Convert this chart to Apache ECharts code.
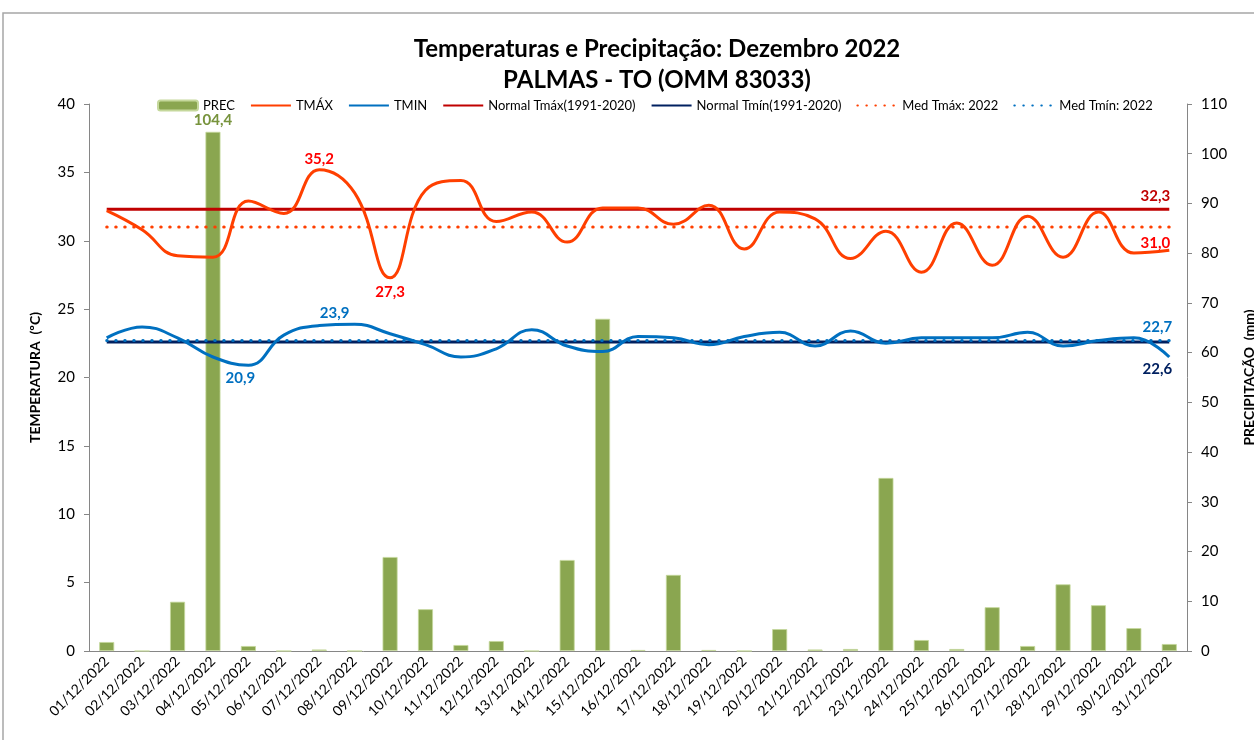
<!DOCTYPE html>
<html>
<head>
    <meta charset="utf-8">
    <title>Temperaturas e Precipitação: Dezembro 2022</title>
    <script src="https://cdn.jsdelivr.net/npm/echarts@6/dist/echarts.min.js"></script>
</head>
<body style="margin:0;background:#fff;">
    <div id="main" style="width: 1254px;height:740px;"></div>
    <script type="text/javascript">
        // dias do mês
        var days = ['01/12/2022','02/12/2022','03/12/2022','04/12/2022','05/12/2022','06/12/2022','07/12/2022','08/12/2022',
            '09/12/2022','10/12/2022','11/12/2022','12/12/2022','13/12/2022','14/12/2022','15/12/2022','16/12/2022',
            '17/12/2022','18/12/2022','19/12/2022','20/12/2022','21/12/2022','22/12/2022','23/12/2022','24/12/2022',
            '25/12/2022','26/12/2022','27/12/2022','28/12/2022','29/12/2022','30/12/2022','31/12/2022'];

        var prec = [1.8, 0, 9.9, 104.4, 1.0, 0, 0.3, 0, 18.9, 8.4, 1.2, 2.0, 0, 18.3, 66.8, 0.2,
            15.3, 0.2, 0, 4.4, 0.3, 0.4, 34.8, 2.2, 0.4, 8.8, 1.0, 13.4, 9.2, 4.6, 1.4];
        var tmax = [32.2, 30.8, 28.9, 28.8, 32.9, 32.0, 35.2, 33.5, 27.3, 33.7, 34.4, 31.4, 32.1, 29.9, 32.4, 32.4,
            31.2, 32.6, 29.4, 32.1, 31.6, 28.7, 30.7, 27.7, 31.3, 28.2, 31.8, 28.8, 32.1, 29.1, 29.3];
        var tmin = [22.9, 23.7, 22.9, 21.5, 20.9, 23.1, 23.8, 23.9, 23.2, 22.4, 21.5, 22.1, 23.5, 22.3, 21.9, 23.0,
            22.9, 22.4, 23.0, 23.3, 22.3, 23.4, 22.5, 22.9, 22.9, 22.9, 23.3, 22.3, 22.7, 22.9, 21.5];
        var normalTmax = 32.3;
        var normalTmin = 22.6;
        var medTmax = 31.0;
        var medTmin = 22.7;

        var fonte = 'Lato';

        function virgula(v) {
            return v.toFixed(1).replace('.', ',');
        }

        function constante(v) {
            return days.map(function () { return v; });
        }

        // rótulos de valores (série, índice, posição, distância, deslocamento x, cor)
        var rotulos = [
            [tmax, 6, 'top', 2, 0, '#FF0000'],
            [tmax, 8, 'bottom', 6, 0, '#FF0000'],
            [tmin, 7, 'top', 3, -20, '#0070C0'],
            [tmin, 4, 'bottom', 5, -8, '#0070C0'],
            [constante(normalTmax), 30, 'top', 5, -14, '#C00000'],
            [constante(medTmax), 30, 'bottom', 8, -14, '#FF0000'],
            [constante(medTmin), 30, 'top', 5, -12, '#0070C0'],
            [constante(normalTmin), 30, 'bottom', 19, -12, '#002060']
        ];

        var pontosRotulo = rotulos.map(function (r) {
            return {
                value: [r[1], r[0][r[1]]],
                label: {
                    show: true, position: r[2], distance: r[3], offset: [r[4], 0], color: r[5], opacity: 1,
                    fontFamily: fonte, fontWeight: 'bold', fontSize: 15,
                    formatter: function (p) { return virgula(p.value[1]); }
                }
            };
        });

        var semSimbolo = { itemStyle: { opacity: 0 } };

        var myChart = echarts.init(document.getElementById('main'));

        var option = {
            animation: false,
            textStyle: { fontFamily: fonte },
            graphic: [{
                type: 'rect',
                shape: { x: 3, y: 13, width: 1300, height: 760 },
                style: { fill: 'none', stroke: '#a6a6a6', lineWidth: 1.5 },
                silent: true
            }],
            title: {
                text: 'Temperaturas e Precipitação: Dezembro 2022\nPALMAS - TO (OMM 83033)',
                left: 652,
                textAlign: 'center',
                top: 29,
                textStyle: { fontFamily: fonte, fontSize: 24, fontWeight: 'bold', color: '#000', lineHeight: 31 }
            },
            legend: {
                left: 152,
                top: 94,
                itemWidth: 40,
                itemHeight: 10,
                itemGap: 15,
                textStyle: { fontFamily: fonte, fontSize: 13, color: '#000' },
                data: [
                    { name: 'PREC' },
                    Object.assign({ name: 'TMÁX' }, semSimbolo),
                    Object.assign({ name: 'TMIN' }, semSimbolo),
                    Object.assign({ name: 'Normal Tmáx(1991-2020)' }, semSimbolo),
                    Object.assign({ name: 'Normal Tmín(1991-2020)' }, semSimbolo),
                    Object.assign({ name: 'Med Tmáx: 2022' }, semSimbolo),
                    Object.assign({ name: 'Med Tmín: 2022' }, semSimbolo)
                ]
            },
            grid: { left: 89, right: 67, top: 104, bottom: 89, outerBoundsMode: 'none', containLabel: false },
            xAxis: {
                type: 'category',
                data: days,
                boundaryGap: true,
                axisLine: { lineStyle: { color: '#868686' } },
                axisTick: { lineStyle: { color: '#868686' }, length: 6 },
                axisLabel: { rotate: 45, fontSize: 14, color: '#000', fontFamily: fonte, interval: 0, margin: 8 }
            },
            yAxis: [{
                type: 'value',
                min: 0, max: 40, interval: 5,
                name: 'TEMPERATURA  (ºC)',
                nameLocation: 'middle',
                nameRotate: 90,
                nameGap: 47,
                nameTextStyle: { fontFamily: fonte, fontWeight: 'bold', fontSize: 14, color: '#000' },
                axisLine: { show: true, lineStyle: { color: '#868686' } },
                axisTick: { show: true, lineStyle: { color: '#868686' } },
                axisLabel: { fontSize: 15, color: '#000', fontFamily: fonte, margin: 14 },
                splitLine: { show: false }
            }, {
                type: 'value',
                min: 0, max: 110, interval: 10,
                name: 'PRECIPITAÇÃO  (mm)',
                nameLocation: 'middle',
                nameRotate: 90,
                nameGap: 55,
                nameTextStyle: { fontFamily: fonte, fontWeight: 'bold', fontSize: 14, color: '#000' },
                axisLine: { show: true, lineStyle: { color: '#868686' } },
                axisTick: { show: true, lineStyle: { color: '#868686' } },
                axisLabel: { fontSize: 15, color: '#000', fontFamily: fonte, margin: 14 },
                splitLine: { show: false }
            }],
            series: [{
                name: 'PREC',
                type: 'bar',
                yAxisIndex: 1,
                barWidth: 15,
                itemStyle: { color: '#8AA650', borderColor: '#c5d89c', borderWidth: 0.8 },
                data: prec.map(function (v, i) {
                    if (i !== 3) return v;
                    return {
                        value: v,
                        label: {
                            show: true, position: 'top', distance: 4, color: '#77933C',
                            fontFamily: fonte, fontWeight: 'bold', fontSize: 15,
                            formatter: function (p) { return virgula(p.value); }
                        }
                    };
                }),
                z: 1
            }, {
                name: 'TMÁX',
                type: 'line',
                smooth: 0.45,
                showSymbol: false,
                symbol: 'none',
                lineStyle: { color: '#FF3F00', width: 3 },
                itemStyle: { color: '#FF3F00' },
                data: tmax,
                z: 5
            }, {
                name: 'TMIN',
                type: 'line',
                smooth: 0.45,
                showSymbol: false,
                symbol: 'none',
                lineStyle: { color: '#0070C0', width: 3 },
                itemStyle: { color: '#0070C0' },
                data: tmin,
                z: 5
            }, {
                name: 'Normal Tmáx(1991-2020)',
                type: 'line',
                showSymbol: false,
                symbol: 'none',
                lineStyle: { color: '#C00000', width: 3 },
                itemStyle: { color: '#C00000' },
                data: constante(normalTmax),
                z: 4
            }, {
                name: 'Normal Tmín(1991-2020)',
                type: 'line',
                showSymbol: false,
                symbol: 'none',
                lineStyle: { color: '#002060', width: 3 },
                itemStyle: { color: '#002060' },
                data: constante(normalTmin),
                z: 4
            }, {
                name: 'Med Tmáx: 2022',
                type: 'line',
                showSymbol: false,
                symbol: 'none',
                lineStyle: { color: '#FF3F00', width: 3, type: [0.5, 8.5], cap: 'round' },
                itemStyle: { color: '#FF3F00' },
                data: constante(medTmax),
                z: 4
            }, {
                name: 'Med Tmín: 2022',
                type: 'line',
                showSymbol: false,
                symbol: 'none',
                lineStyle: { color: '#0070C0', width: 3, type: [0.5, 8.5], cap: 'round' },
                itemStyle: { color: '#0070C0' },
                data: constante(medTmin),
                z: 6
            }, {
                name: 'rotulos',
                type: 'scatter',
                symbolSize: 1,
                itemStyle: { color: 'transparent', opacity: 1 },
                silent: true,
                data: pontosRotulo,
                z: 10
            }]
        };
        myChart.setOption(option);
    </script>
</body>
</html>
